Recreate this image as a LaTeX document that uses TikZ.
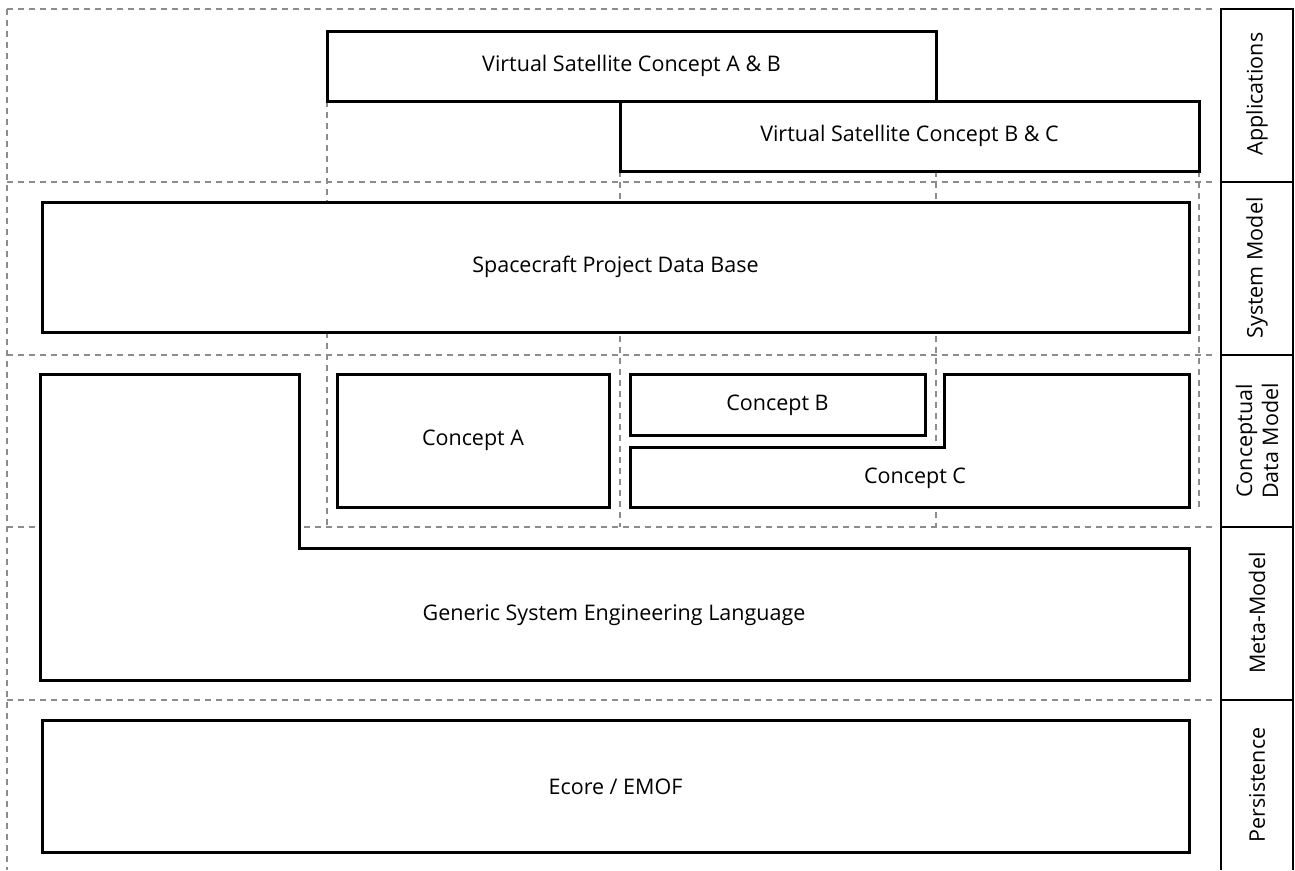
\documentclass[tikz,border=0pt]{standalone}
\usepackage{fontspec}
\setmainfont{Open Sans}
\begin{document}
\begin{tikzpicture}[x=1pt,y=-1pt,
  blk/.style={draw=black,line width=3pt,fill=white,inner sep=0pt,font=\fontsize{21.5}{26}\selectfont},
  shapeline/.style={draw=black,line width=3pt,fill=white,line join=miter},
  lbl/.style={inner sep=0pt,font=\fontsize{21.5}{26}\selectfont,align=center},
  grid/.style={draw=black!45,line width=1.5pt,dash pattern=on 6pt off 5pt},
  col/.style={draw=black,line width=1.3pt},
  lay/.style={rotate=90,inner sep=0pt,font=\fontsize{21.5}{26}\selectfont,align=center}]
\useasboundingbox (0,0) rectangle (1295,870);
% dashed grid
\draw[grid] (7,9) -- (1215,9);
\draw[grid] (7,9) -- (7,870);
\foreach \yy in {182,355,527,700} \draw[grid] (7,\yy) -- (1215,\yy);
\draw[grid] (327,101) -- (327,527);
\draw[grid] (620,171) -- (620,527);
\draw[grid] (936,171) -- (936,527);
\draw[grid] (1199,171) -- (1199,507);
% label column
\draw[col] (1221,870) -- (1221,9) -- (1293,9) -- (1293,870);
\foreach \yy in {182,355,527,700} \draw[col] (1221,\yy) -- (1293,\yy);
\node[lay] (lapp) at (1257,94) {Applications};
\node[lay] (lsys) at (1257,268) {System Model};
\node[lay] (lcdm) at (1257,441) {Conceptual\\Data Model};
\node[lay] (lmeta) at (1257,613) {Meta-Model};
\node[lay] (lper) at (1257,785) {Persistence};
% boxes
\node[blk,minimum width=609pt,minimum height=70pt] (vab) at (631.5,66) {Virtual Satellite Concept A \& B};
\node[blk,minimum width=579pt,minimum height=70pt] (vbc) at (909.5,136) {Virtual Satellite Concept B \& C};
\node[blk,minimum width=1147pt,minimum height=130pt] (spdb) at (615.5,267) {Spacecraft Project Data Base};
\node[blk,minimum width=272pt,minimum height=133pt] (ca) at (473,440.5) {Concept A};
\node[blk,minimum width=295pt,minimum height=61pt] (cb) at (777.5,405) {Concept B};
\node[blk,minimum width=1147pt,minimum height=132pt] (ecore) at (615.5,786.5) {Ecore / EMOF};
% L-shapes
\draw[shapeline] (40,374) -- (299,374) -- (299,548) -- (1189,548) -- (1189,680) -- (40,680) -- cycle;
\node[lbl] (gsel) at (614,615) {Generic System Engineering Language};
\draw[shapeline] (630,447) -- (944,447) -- (944,374) -- (1189,374) -- (1189,507) -- (630,507) -- cycle;
\node[lbl] (cc) at (915,478) {Concept C};
\end{tikzpicture}
\end{document}
